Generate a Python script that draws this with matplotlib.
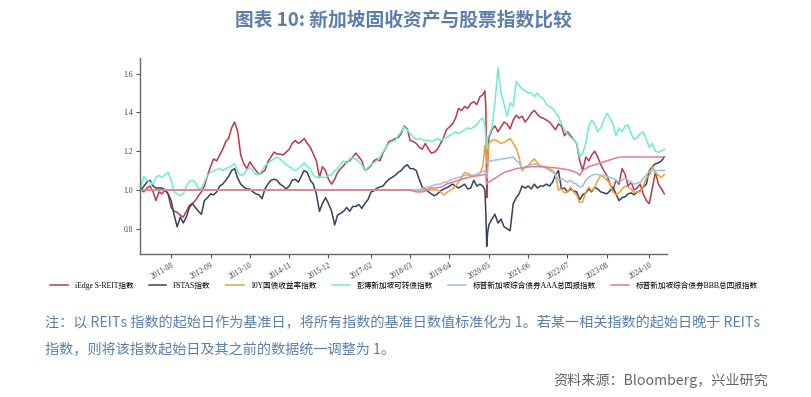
import numpy as np
import pandas as pd
import matplotlib
matplotlib.use("Agg")
import matplotlib.pyplot as plt
from matplotlib.font_manager import FontProperties

plt.rcParams['font.family'] = ['Noto Sans CJK SC', 'DejaVu Sans']

# ---------------- data ----------------
month_start = '2010-10-01'
n_months = 174
extra_dates = ['2020-03-22', '2020-04-10', '2020-04-19']   # extra points around the March-2020 crash

series_names = ['iEdge S-REIT指数', 'FSTAS指数', '10Y国债收益率指数',
                '彭博新加坡可转债指数', '标普新加坡综合债券AAA总回报指数',
                '标普新加坡综合债券BBB总回报指数']

sreit = [1.00, 0.99, 1.01, 1.02, 0.99, 0.945, 0.99, 0.98, 1.00, 0.98,
         0.91, 0.89, 0.885, 0.87, 0.86, 0.89, 0.92, 0.93, 0.945, 0.97,
         0.99, 1.02, 1.075, 1.12, 1.16, 1.15, 1.18, 1.21, 1.25, 1.265,
         1.32, 1.35, 1.30, 1.18, 1.135, 1.11, 1.145, 1.12, 1.10, 1.08,
         1.09, 1.10, 1.145, 1.17, 1.195, 1.185, 1.185, 1.18, 1.195, 1.21,
         1.24, 1.255, 1.24, 1.25, 1.265, 1.24, 1.22, 1.185, 1.15, 1.065,
         1.12, 1.10, 1.055, 1.03, 1.055, 1.09, 1.11, 1.125, 1.145, 1.15,
         1.17, 1.19, 1.17, 1.15, 1.10, 1.11, 1.125, 1.15, 1.16, 1.15,
         1.19, 1.22, 1.25, 1.255, 1.265, 1.27, 1.29, 1.33, 1.315, 1.255,
         1.25, 1.24, 1.22, 1.21, 1.24, 1.21, 1.19, 1.195, 1.21, 1.24,
         1.27, 1.31, 1.325, 1.34, 1.37, 1.42, 1.41, 1.43, 1.42, 1.445,
         1.455, 1.44, 1.48, 1.49, 1.42, 1.27, 1.31, 1.33, 1.30, 1.325,
         1.35, 1.34, 1.315, 1.36, 1.385, 1.37, 1.38, 1.35, 1.37, 1.395,
         1.41, 1.39, 1.375, 1.37, 1.36, 1.35, 1.33, 1.31, 1.34, 1.33,
         1.28, 1.30, 1.28, 1.26, 1.24, 1.15, 1.10, 1.17, 1.15, 1.18,
         1.20, 1.17, 1.13, 1.10, 1.075, 1.03, 1.00, 1.05, 1.03, 1.11,
         1.08, 1.02, 1.04, 1.00, 1.01, 1.03, 0.98, 0.945, 0.93, 1.01,
         1.09, 1.03, 1.005, 0.98]
sreit_extra = [1.51, 0.96, 1.15]

fstas = [1.00, 1.02, 1.04, 1.05, 1.02, 1.01, 1.01, 1.01, 1.00, 0.98,
         0.945, 0.87, 0.81, 0.86, 0.83, 0.86, 0.91, 0.93, 0.91, 0.89,
         0.875, 0.945, 0.96, 0.98, 0.975, 0.99, 1.02, 1.03, 1.05, 1.07,
         1.10, 1.11, 1.06, 1.03, 1.015, 1.005, 1.005, 0.99, 0.98, 0.975,
         0.955, 1.005, 1.03, 1.05, 1.055, 1.05, 1.03, 1.02, 1.005, 1.02,
         1.05, 1.055, 1.04, 1.07, 1.10, 1.09, 1.05, 1.03, 0.98, 0.89,
         0.93, 0.96, 0.93, 0.89, 0.82, 0.87, 0.88, 0.89, 0.91, 0.89,
         0.915, 0.915, 0.925, 0.905, 0.93, 0.95, 0.99, 0.995, 1.01, 1.015,
         1.02, 1.04, 1.055, 1.065, 1.075, 1.09, 1.10, 1.12, 1.13, 1.11,
         1.11, 1.10, 1.055, 1.015, 1.005, 0.99, 0.98, 0.97, 0.98, 0.995,
         1.005, 1.01, 1.02, 1.03, 1.02, 1.01, 1.02, 1.03, 1.005, 1.01,
         1.05, 1.02, 1.03, 1.02, 0.88, 0.82, 0.85, 0.875, 0.83, 0.85,
         0.81, 0.80, 0.79, 0.93, 0.96, 0.98, 1.02, 1.01, 1.02, 1.005,
         1.03, 1.01, 1.02, 1.02, 1.03, 1.02, 1.04, 1.075, 1.10, 1.005,
         1.01, 0.99, 1.005, 0.995, 0.99, 0.95, 0.975, 0.985, 1.005, 0.99,
         1.015, 1.005, 0.99, 0.985, 0.98, 0.995, 1.015, 0.98, 0.945, 0.96,
         0.965, 0.98, 0.985, 0.975, 0.99, 0.995, 1.015, 1.03, 1.10, 1.12,
         1.135, 1.14, 1.15, 1.17]
fstas_extra = [1.00, 0.71, 0.78]

govt10y = [1.0] * 99 + [
         0.99, 0.975, 0.985, 0.995, 1.005, 1.02, 1.04, 1.065, 1.09, 1.085, 1.075,
         1.075, 1.08, 1.085, 1.12, 1.20, 1.24, 1.255, 1.26, 1.25, 1.24,
         1.245, 1.255, 1.265, 1.24, 1.215, 1.17, 1.10, 1.12, 1.125, 1.145,
         1.16, 1.14, 1.125, 1.12, 1.115, 1.11, 1.10, 1.08, 1.00, 1.005,
         0.985, 0.99, 1.015, 0.99, 0.975, 0.935, 0.94, 0.99, 1.015, 0.995,
         1.015, 1.05, 1.075, 1.065, 1.05, 1.035, 0.99, 0.975, 0.985, 1.005,
         1.02, 1.015, 1.005, 0.985, 0.99, 0.99, 1.02, 1.06, 1.075, 1.12,
         1.09, 1.075, 1.065, 1.08]
govt10y_extra = [1.23, 1.135, 1.17]

convert = [1.02, 1.07, 1.05, 1.04, 1.03, 1.065, 1.075, 1.065, 1.08, 1.09,
           1.05, 0.99, 0.98, 0.97, 0.98, 1.02, 1.045, 1.05, 1.04, 1.005,
           1.01, 1.04, 1.075, 1.09, 1.10, 1.105, 1.11, 1.10, 1.11, 1.115,
           1.125, 1.135, 1.09, 1.075, 1.08, 1.105, 1.115, 1.10, 1.08, 1.08,
           1.10, 1.125, 1.135, 1.15, 1.16, 1.17, 1.16, 1.145, 1.13, 1.12,
           1.11, 1.10, 1.11, 1.125, 1.14, 1.12, 1.11, 1.075, 1.065, 1.07,
           1.065, 1.065, 1.075, 1.08, 1.10, 1.11, 1.135, 1.15, 1.135, 1.16,
           1.165, 1.16, 1.145, 1.13, 1.10, 1.115, 1.13, 1.14, 1.15, 1.17,
           1.195, 1.22, 1.24, 1.25, 1.255, 1.28, 1.30, 1.325, 1.31, 1.29,
           1.275, 1.26, 1.265, 1.26, 1.255, 1.255, 1.25, 1.255, 1.265, 1.255,
           1.265, 1.27, 1.28, 1.29, 1.30, 1.29, 1.30, 1.31, 1.32, 1.315,
           1.325, 1.335, 1.36, 1.37, 1.27, 1.28, 1.32, 1.45, 1.63, 1.50,
           1.44, 1.38, 1.45, 1.43, 1.56, 1.54, 1.52, 1.51, 1.50, 1.50,
           1.48, 1.50, 1.48, 1.47, 1.44, 1.43, 1.42, 1.40, 1.38, 1.34,
           1.31, 1.29, 1.27, 1.26, 1.24, 1.17, 1.19, 1.24, 1.33, 1.36,
           1.34, 1.30, 1.32, 1.36, 1.395, 1.37, 1.34, 1.28, 1.32, 1.30,
           1.33, 1.335, 1.29, 1.26, 1.27, 1.29, 1.30, 1.26, 1.22, 1.24,
           1.20, 1.195, 1.20, 1.21]
convert_extra = [1.33, 1.21, 1.27]

aaa = [1.0] * 89 + [
       1.0, 1.0, 0.995, 1.0, 1.01, 1.01, 1.015, 1.02, 1.025, 1.03, 1.03,
       1.04, 1.04, 1.05, 1.055, 1.06, 1.065, 1.07, 1.075, 1.075, 1.075,
       1.075, 1.08, 1.09, 1.095, 1.085, 1.15, 1.15, 1.155, 1.155, 1.16,
       1.16, 1.165, 1.165, 1.17, 1.15, 1.14, 1.11, 1.115, 1.125, 1.13,
       1.135, 1.13, 1.12, 1.12, 1.11, 1.10, 1.09, 1.085, 1.05, 1.06,
       1.05, 1.04, 1.05, 1.035, 1.03, 1.015, 1.02, 1.05, 1.065, 1.075,
       1.08, 1.08, 1.075, 1.075, 1.07, 1.065, 1.06, 1.05, 1.04, 1.05,
       1.06, 1.05, 1.04, 1.03, 1.035, 1.04, 1.06, 1.075, 1.10, 1.10,
       1.10, 1.10, 1.10, 1.10]
aaa_extra = [1.10, 1.06, 1.12]

bbb = [1.0] * 89 + [
       1.0, 0.995, 0.99, 0.99, 0.99, 0.995, 1.005, 1.01, 1.01, 1.012, 1.015,
       1.02, 1.03, 1.035, 1.04, 1.045, 1.05, 1.055, 1.06, 1.063, 1.067,
       1.07, 1.072, 1.075, 1.078, 1.07, 1.04, 1.05, 1.06, 1.07, 1.08,
       1.09, 1.095, 1.10, 1.105, 1.11, 1.112, 1.114, 1.116, 1.118, 1.12,
       1.12, 1.12, 1.12, 1.12, 1.118, 1.117, 1.115, 1.114, 1.112, 1.11,
       1.107, 1.105, 1.10, 1.095, 1.09, 1.075, 1.10, 1.11, 1.12, 1.125,
       1.13, 1.135, 1.14, 1.145, 1.15, 1.155, 1.16, 1.165, 1.168, 1.17,
       1.17, 1.17, 1.17, 1.17, 1.17, 1.17, 1.17, 1.17, 1.17, 1.17,
       1.17, 1.17, 1.17, 1.17]
bbb_extra = [1.08, 1.03, 1.04]

tick_labels = ['2011-08', '2012-09', '2013-10', '2014-11', '2015-12', '2017-02',
               '2018-03', '2019-04', '2020-05', '2021-06', '2022-07', '2023-08',
               '2024-10']
ytick_values = [0.8, 1.0, 1.2, 1.4, 1.6]

colors = ['#B8394C', '#35415D', '#E9A33A', '#6FEBD3', '#A3BDDE', '#E8798E']

# ---------------- build frame ----------------
dates = pd.date_range(month_start, periods=n_months, freq='MS').append(pd.to_datetime(extra_dates))
all_series = [sreit + sreit_extra, fstas + fstas_extra, govt10y + govt10y_extra,
              convert + convert_extra, aaa + aaa_extra, bbb + bbb_extra]
df = pd.DataFrame({name: vals for name, vals in zip(series_names, all_series)}, index=dates).sort_index()

# ---------------- figure ----------------
W, H = 811, 397
fig = plt.figure(figsize=(W / 100, H / 100), dpi=100)
fig.patch.set_facecolor('white')
ax = fig.add_axes([140 / W, 1 - 254 / H, (667 - 140) / W, (254 - 58) / H])

handles = []
for name, c in zip(series_names, colors):
    h, = ax.plot(df.index, df[name], color=c, lw=1.1, solid_joinstyle='round')
    handles.append(h)

ax.set_xlim(pd.Timestamp('2010-09-22'), pd.Timestamp('2025-03-28'))
ax.set_ylim(0.67, 1.68)

serif_small = FontProperties(family=['Liberation Serif', 'Noto Sans CJK SC'], size=5.5)
ax.set_xticks(pd.to_datetime(tick_labels))
ax.set_xticklabels(tick_labels, rotation=30, ha='right', rotation_mode='anchor',
                   fontproperties=serif_small, color='#444444')
ax.set_yticks(ytick_values)
ax.set_yticklabels([f'{v:.1f}' for v in ytick_values], fontproperties=serif_small, color='#444444')
ax.tick_params(axis='both', length=3, width=0.8, color='#555555', pad=2)

for s in ['top', 'right']:
    ax.spines[s].set_visible(False)
for s in ['left', 'bottom']:
    ax.spines[s].set_color('#666666')
    ax.spines[s].set_linewidth(1.0)

legend_font = FontProperties(family=['Liberation Serif', 'Noto Sans CJK SC'], size=5.5)
fig.legend(handles, series_names, loc='center', bbox_to_anchor=(404 / W, 1 - 286 / H),
           ncol=6, frameon=False, prop=legend_font, handlelength=2.3, handletextpad=0.9,
           columnspacing=2.0)

title_color = '#5B7FA9'
fig.text(403 / W, 1 - 20 / H, '图表 10: 新加坡固收资产与股票指数比较', ha='center', va='center',
         fontsize=13.5, fontweight='bold', color=title_color)

fig.text(45 / W, 1 - 323 / H,
         '注：以 REITs 指数的起始日作为基准日，将所有指数的基准日数值标准化为 1。若某一相关指数的起始日晚于 REITs',
         ha='left', va='center', fontsize=10.2, color=title_color)
fig.text(45 / W, 1 - 350 / H, '指数，则将该指数起始日及其之前的数据统一调整为 1。',
         ha='left', va='center', fontsize=10.2, color=title_color)
fig.text(768 / W, 1 - 380 / H, '资料来源：Bloomberg，兴业研究', ha='right', va='center',
         fontsize=10.2, color='#666666')

fig.savefig('out.png', dpi=100, facecolor='white')
